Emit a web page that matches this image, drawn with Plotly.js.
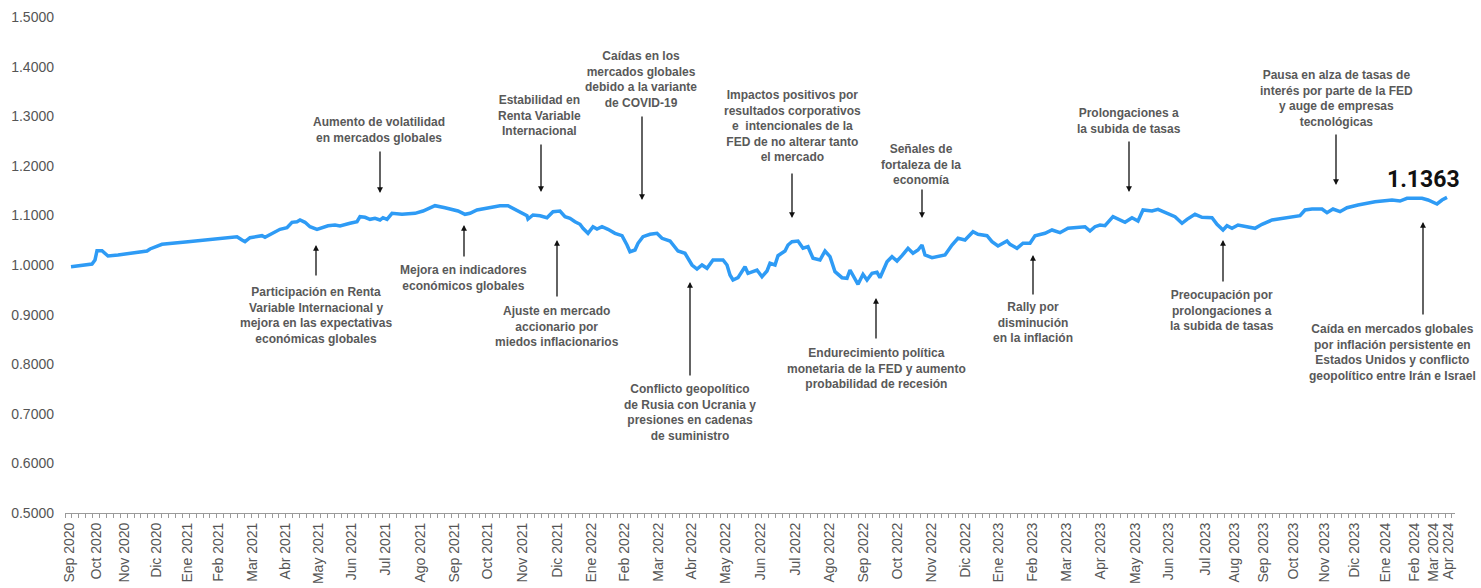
<!DOCTYPE html>
<html>
<head>
<meta charset="utf-8">
<script src="https://cdn.plot.ly/plotly-3.0.1.min.js"></script>
<style>html,body{margin:0;padding:0;background:#fff;}#chart{width:1481px;height:588px;}</style>
</head>
<body>
<div id="chart"></div>
<script>
// Índice de sesión (eje de categorías) y valor cuota
const sesion = [6,17,27,30,32,37,40,43,53,67,82,85,90,97,123,140,163,172,177,180,185,192,197,200,208,215,222,227,232,235,240,245,252,257,263,270,275,285,292,295,300,305,310,315,318,322,327,337,350,358,370,380,393,400,405,412,423,435,443,448,453,462,463,468,475,482,488,495,500,505,510,515,518,523,528,532,537,543,550,557,562,565,570,573,578,585,592,597,605,613,620,627,632,637,642,648,658,662,665,668,673,680,683,688,692,697,702,705,710,713,720,723,727,733,738,743,748,755,760,765,770,777,782,785,790,793,798,802,807,812,815,822,827,832,837,843,848,853,857,860,867,875,880,887,893,900,908,913,922,927,933,942,945,948,952,958,965,970,980,987,995,1003,1020,1025,1030,1035,1040,1048,1053,1060,1067,1073,1078,1087,1093,1102,1110,1117,1122,1130,1137,1147,1152,1158,1162,1167,1173,1190,1197,1207,1222,1235,1240,1247,1257,1262,1268,1275,1282,1293,1310,1327,1335,1342,1357,1363,1372,1377,1382];
const valorCuota = [0.9966,0.9986,1.0020,1.0101,1.0288,1.0288,1.0236,1.0181,1.0202,1.0248,1.0282,1.0323,1.0369,1.0417,1.0470,1.0504,1.0538,1.0571,1.0504,1.0470,1.0550,1.0565,1.0591,1.0558,1.0639,1.0720,1.0752,1.0861,1.0873,1.0907,1.0861,1.0772,1.0720,1.0752,1.0792,1.0806,1.0786,1.0841,1.0873,1.0974,1.0962,1.0921,1.0942,1.0907,1.0954,1.0921,1.1042,1.1022,1.1042,1.1089,1.1196,1.1155,1.1089,1.1022,1.1042,1.1109,1.1155,1.1196,1.1196,1.1143,1.1089,1.0994,1.0927,1.1008,1.0994,1.0954,1.1075,1.1089,1.0974,1.0942,1.0873,1.0821,1.0740,1.0639,1.0772,1.0726,1.0772,1.0720,1.0639,1.0591,1.0403,1.0268,1.0302,1.0438,1.0571,1.0619,1.0639,1.0538,1.0484,1.0282,1.0236,1.0000,0.9919,1.0000,0.9933,1.0101,1.0101,1.0000,0.9798,0.9698,0.9744,0.9966,0.9833,0.9879,0.9899,0.9764,0.9879,1.0034,1.0000,1.0188,1.0282,1.0403,1.0470,1.0484,1.0337,1.0369,1.0135,1.0101,1.0282,1.0167,0.9865,0.9744,0.9732,0.9899,0.9732,0.9611,0.9812,0.9698,0.9833,0.9853,0.9744,1.0067,1.0167,1.0081,1.0188,1.0337,1.0236,1.0302,1.0403,1.0202,1.0147,1.0181,1.0202,1.0403,1.0538,1.0504,1.0671,1.0619,1.0591,1.0470,1.0383,1.0484,1.0417,1.0383,1.0337,1.0438,1.0438,1.0591,1.0639,1.0706,1.0651,1.0740,1.0772,1.0685,1.0772,1.0806,1.0792,1.0974,1.0921,1.0861,1.0954,1.0887,1.1109,1.1089,1.1123,1.1042,1.0974,1.0841,1.0921,1.1022,1.0962,1.0954,1.0821,1.0706,1.0792,1.0740,1.0806,1.0740,1.0821,1.0907,1.0962,1.0994,1.1109,1.1129,1.1129,1.1054,1.1129,1.1075,1.1155,1.1210,1.1276,1.1310,1.1290,1.1345,1.1345,1.1310,1.1230,1.1310,1.1363];

const mesesPos = [4,31,59,91,122,153,187,220,253,286,320,355,389,422,457,492,526,559,593,626,660,695,730,764,798,832,866,900,933,967,1001,1035,1070,1103,1140,1169,1198,1228,1259,1289,1320,1349,1368,1383];
const mesesTxt = ["Sep 2020","Oct 2020","Nov 2020","Dic 2020","Ene 2021","Feb 2021","Mar 2021","Abr 2021","May 2021","Jun 2021","Jul 2021","Ago 2021","Sep 2021","Oct 2021","Nov 2021","Dic 2021","Ene 2022","Feb 2022","Mar 2022","Abr 2022","May 2022","Jun 2022","Jul 2022","Ago 2022","Sep 2022","Oct 2022","Nov 2022","Dic 2022","Ene 2023","Feb 2023","Mar 2023","Apr 2023","May 2023","Jun 2023","Jul 2023","Aug 2023","Sep 2023","Oct 2023","Nov 2023","Dic 2023","Ene 2024","Feb 2024","Mar 2024","Apr 2024"];

const yTicks = [0.5,0.6,0.7,0.8,0.9,1.0,1.1,1.2,1.3,1.4,1.5];

// Eventos: texto, posición del texto, cola y punta de la flecha
const eventos = [
  {t:"Aumento de volatilidad<br>en mercados globales", x:314, y:1.2712, ax:315, ay0:1.2319, ay1:1.1452},
  {t:"Estabilidad en<br>Renta Variable<br>Internacional", x:474, y:1.3024, ax:476, ay0:1.2460, ay1:1.1472},
  {t:"Caídas en los<br>mercados globales<br>debido a la variante<br>de COVID-19", x:576, y:1.3740, ax:577, ay0:1.3024, ay1:1.1310},
  {t:"Impactos positivos por<br>resultados corporativos<br>e&nbsp; intencionales de la<br>FED de no alterar tanto<br>el mercado", x:727, y:1.2812, ax:727, ay0:1.1875, ay1:1.0948},
  {t:"Señales de<br>fortaleza de la<br>economía", x:856, y:1.2036, ax:857, ay0:1.1552, ay1:1.0948},
  {t:"Prolongaciones a<br>la subida de tasas", x:1064, y:1.2913, ax:1064, ay0:1.2520, ay1:1.1472},
  {t:"Pausa en alza de tasas de<br>interés por parte de la FED<br>y auge de empresas<br>tecnológicas", x:1271, y:1.3357, ax:1271, ay0:1.2661, ay1:1.1613},
  {t:"Participación en Renta<br>Variable Internacional y<br>mejora en las expectativas<br>económicas globales", x:251, y:0.8972, ax:251, ay0:0.9758, ay1:1.0403},
  {t:"Mejora en indicadores<br>económicos globales", x:398, y:0.9748, ax:399, ay0:1.0141, ay1:1.0806},
  {t:"Ajuste en mercado<br>accionario por<br>miedos inflacionarios", x:492, y:0.8770, ax:492, ay0:0.9335, ay1:1.0504},
  {t:"Conflicto geopolítico<br>de Rusia con Ucrania y<br>presiones en cadenas<br>de suministro", x:625, y:0.7026, ax:625, ay0:0.7742, ay1:0.9657},
  {t:"Endurecimiento política<br>monetaria de la FED y aumento<br>probabilidad de recesión", x:811, y:0.7923, ax:811, ay0:0.8488, ay1:0.9335},
  {t:"Rally por<br>disminución<br>en la inflación", x:968, y:0.8831, ax:968, ay0:0.9375, ay1:1.0202},
  {t:"Preocupación por<br>prolongaciones a<br>la subida de tasas", x:1157, y:0.9073, ax:1158, ay0:0.9637, ay1:1.0504},
  {t:"Caída en mercados globales<br>por inflación persistente en<br>Estados Unidos y conflicto<br>geopolítico entre Irán e Israel", x:1327, y:0.8246, ax:1358, ay0:0.8972, ay1:1.0867}
];

const annotations = [];
eventos.forEach(e => {
  annotations.push({
    x:e.x, y:e.y, xref:'x', yref:'y', text:e.t, showarrow:false,
    xanchor:'center', yanchor:'middle', align:'center',
    font:{family:'Arial, Liberation Sans, sans-serif', size:12, color:'#595959', weight:'bold'}
  });
  annotations.push({
    x:e.ax, y:e.ay1, ax:e.ax, ay:e.ay0, xref:'x', yref:'y', axref:'x', ayref:'y',
    text:'', showarrow:true, arrowhead:2, arrowsize:0.9, arrowwidth:1.3, arrowcolor:'#111'
  });
});
annotations.push({
  x:1358, y:1.1714, xref:'x', yref:'y', text:'<b>' + valorCuota[valorCuota.length-1].toFixed(4) + '</b>',
  showarrow:false, xanchor:'center', yanchor:'middle',
  font:{family:'Roboto, Lato, sans-serif', size:23, color:'#111'}
});

const trace = {
  x: sesion, y: valorCuota, type:'scatter', mode:'lines',
  line:{color:'#2E9BF5', width:3.5}, hoverinfo:'y'
};

const layout = {
  width:1481, height:588,
  margin:{l:65, r:26, t:17, b:75},
  paper_bgcolor:'#fff', plot_bgcolor:'#fff',
  showlegend:false,
  xaxis:{
    range:[0,1390], tickmode:'array', tickvals:mesesPos, ticktext:mesesTxt,
    tickangle:-90, ticks:'', showgrid:false, zeroline:false,
    showline:true, linecolor:'#9a9a9a', linewidth:1,
    tickfont:{family:'Arial, Liberation Sans, sans-serif', size:14, color:'#555'},
    ticklabelstandoff:3,
    minor:{tickmode:'linear', tick0:0, dtick:6.9, ticks:'outside', ticklen:4, tickcolor:'#9a9a9a', tickwidth:1, showgrid:false}
  },
  yaxis:{
    range:[0.5,1.5], tickmode:'array', tickvals:yTicks, tickformat:'.4f',
    ticks:'', showgrid:false, zeroline:false, showline:false,
    tickfont:{family:'Arial, Liberation Sans, sans-serif', size:14, color:'#555'},
    ticklabelstandoff:10
  },
  annotations: annotations
};

Plotly.newPlot('chart', [trace], layout, {displayModeBar:false, staticPlot:true});
</script>
</body>
</html>
